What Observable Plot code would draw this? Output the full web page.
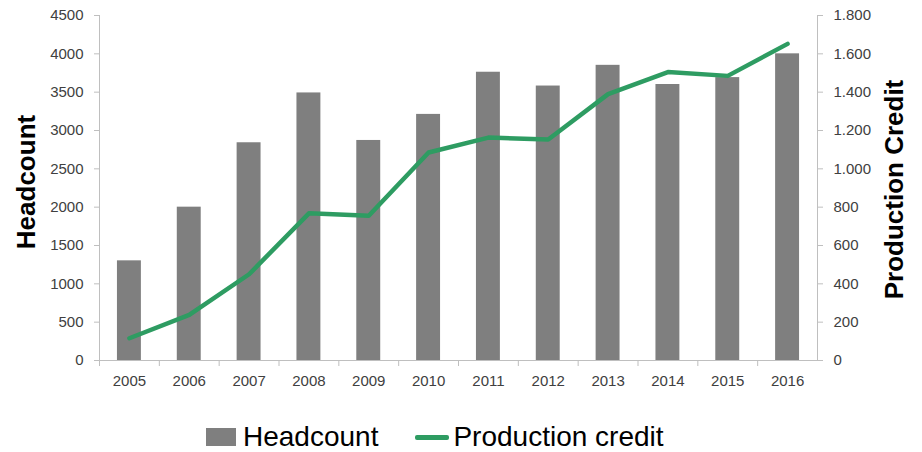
<!DOCTYPE html>
<html>
<head>
<meta charset="utf-8">
<script src="https://cdn.jsdelivr.net/npm/d3@7"></script>
<script src="https://cdn.jsdelivr.net/npm/@observablehq/plot@0.6"></script>
<style>
  html, body { margin: 0; padding: 0; background: white; }
  #chart svg { display: block; }
  .legend { display: flex; align-items: center; height: 34px; margin-top: 20px; padding-left: 206px;
    font-family: "Liberation Sans", Arial, sans-serif; font-size: 28px; color: #000; }
  .sw-bar { width: 30px; height: 18px; background: #7f7f7f; margin-right: 7px; }
  .sw-line { width: 34px; height: 5px; background: #2e9c62; border-radius: 2px; margin-left: 37px; margin-right: 4px; }
</style>
</head>
<body>
<div id="chart"></div>
<div class="legend"><span class="sw-bar"></span><span>Headcount</span><span class="sw-line"></span><span>Production credit</span></div>
<script>
const years = ["2005","2006","2007","2008","2009","2010","2011","2012","2013","2014","2015","2016"];
const headcount = [1300, 2000, 2840, 3490, 2870, 3210, 3760, 3580, 3850, 3600, 3690, 4000];
const credit = [116, 238, 450, 768, 755, 1085, 1163, 1153, 1390, 1505, 1485, 1652];
const leftTicks = [0, 500, 1000, 1500, 2000, 2500, 3000, 3500, 4000, 4500];
const rightTicks = [0, 200, 400, 600, 800, 1000, 1200, 1400, 1600, 1800];

const W = 922, H = 400, mL = 99, mR = 105, mT = 15, mB = 40;
const ratio = 4500 / 1800;
const step = (W - mL - mR) / years.length;
const data = years.map((year, i) => ({year, headcount: headcount[i], credit: credit[i]}));
const fmt = v => d3.format(",")(v).replace(/,/g, ".");
const axisGrey = "#bfbfbf";
const textCol = "#404040";

const chart = Plot.plot({
  width: W, height: H,
  marginLeft: mL, marginRight: mR, marginTop: mT, marginBottom: mB,
  style: {fontFamily: "'Liberation Sans', Arial, sans-serif", fontSize: "15px", background: "white", overflow: "visible"},
  x: {domain: years, paddingInner: 0.6, paddingOuter: 0.3, round: false, axis: null},
  y: {domain: [0, 4500], axis: null},
  marks: [
    Plot.barY(data, {x: "year", y: "headcount", fill: "#7f7f7f"}),
    Plot.frame({anchor: "left", stroke: axisGrey}),
    Plot.frame({anchor: "right", stroke: axisGrey}),
    Plot.ruleY([0], {stroke: axisGrey}),
    Plot.ruleX(years, {x: d => d, y1: 0, y2: 0, insetBottom: -6, dx: -step / 2, stroke: axisGrey}),
    Plot.axisX({tickSize: 0, tickPadding: 15, fill: textCol, label: null}),
    Plot.axisY(leftTicks, {anchor: "left", tickSize: 5, tickPadding: 11, stroke: axisGrey, fill: textCol, label: null, tickFormat: d => String(d)}),
    Plot.axisY(rightTicks.map(v => v * ratio), {anchor: "right", tickSize: 5, tickPadding: 11, stroke: axisGrey, fill: textCol, label: null, tickFormat: d => fmt(Math.round(d / ratio))}),
    Plot.lineY(data, {x: "year", y: d => d.credit * ratio, stroke: "#2e9c62", strokeWidth: 4.5, strokeLinejoin: "round", strokeLinecap: "round"}),
    Plot.text(["Headcount"], {text: d => d, frameAnchor: "left", textAnchor: "middle", lineAnchor: "middle", dx: -73, dy: -6, rotate: -90, fontSize: 26, fontWeight: "bold", fill: "black"}),
    Plot.text(["Production Credit"], {text: d => d, frameAnchor: "right", textAnchor: "middle", lineAnchor: "middle", dx: 77, dy: 1.5, rotate: -90, fontSize: 26, fontWeight: "bold", fill: "black"})
  ]
});
document.getElementById("chart").append(chart);
</script>
</body>
</html>
